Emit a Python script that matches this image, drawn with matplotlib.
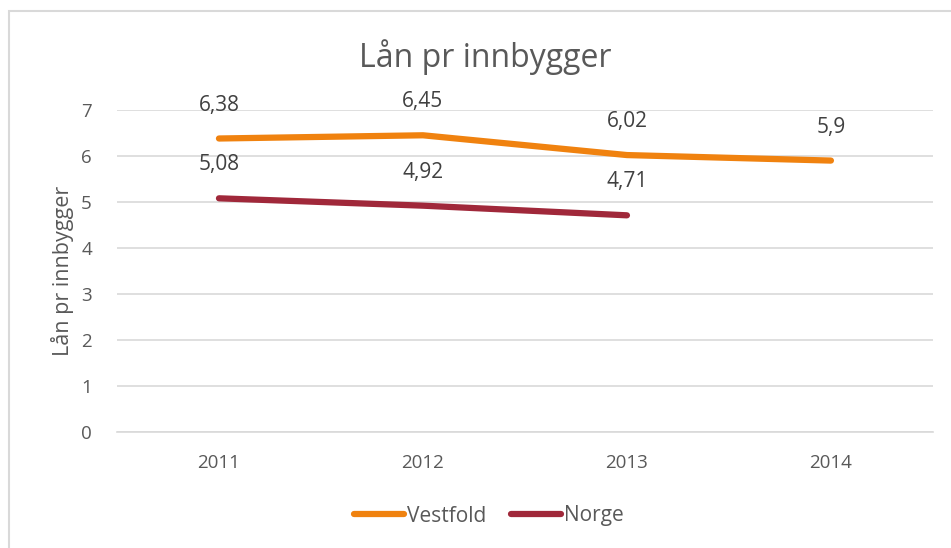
import matplotlib
matplotlib.use('Agg')
import matplotlib.pyplot as plt
from matplotlib.patches import Rectangle

plt.rcParams['font.family'] = ['Open Sans', 'DejaVu Sans']

years = ['2011', '2012', '2013', '2014']
vestfold = [6.38, 6.45, 6.02, 5.9]
norge = [5.08, 4.92, 4.71]
vestfold_labels = ['6,38', '6,45', '6,02', '5,9']
norge_labels = ['5,08', '4,92', '4,71']

txt = '#595959'
fig = plt.figure(figsize=(9.51, 5.48), dpi=100)
ax = fig.add_axes([0.123, 0.2117, 0.858, 0.5876])

# light frame of the chart area (cut off on right/bottom)
fig.patches.append(Rectangle((9 / 951, -0.1), 1.2, 1 - 11 / 548 + 0.1,
                             transform=fig.transFigure, fill=False,
                             edgecolor='#d9d9d9', lw=1.5))

x = list(range(len(years)))
ax.plot(x, vestfold, color='#F0820F', lw=4.5, solid_capstyle='round', label='Vestfold')
ax.plot(x[:len(norge)], norge, color='#A0283A', lw=4.5, solid_capstyle='round', label='Norge')

for i, (v, s) in enumerate(zip(vestfold, vestfold_labels)):
    ax.annotate(s, (i, v), xytext=(0, 24), textcoords='offset points',
                ha='center', va='center', fontsize=15, color='#404040')
for i, (v, s) in enumerate(zip(norge, norge_labels)):
    ax.annotate(s, (i, v), xytext=(0, 24), textcoords='offset points',
                ha='center', va='center', fontsize=15, color='#404040')

ax.set_xlim(-0.5, 3.5)
ax.set_ylim(0, 7)
ax.set_xticks(x)
ax.set_xticklabels(years)
ax.set_yticks(range(0, 8))
ax.grid(axis='y', color='#d9d9d9', lw=1.2)
ax.set_axisbelow(True)
for sp in ['top', 'right', 'left']:
    ax.spines[sp].set_visible(False)
ax.spines['bottom'].set_color('#d9d9d9')
ax.spines['bottom'].set_linewidth(1.2)
ax.tick_params(length=0, labelsize=13.5, colors=txt, pad=16)
ax.tick_params(axis='y', pad=18)
ax.set_ylabel('Lån pr innbygger', fontsize=15.5, color=txt, labelpad=5)

fig.text(0.51, 1 - 57 / 548, 'Lån pr innbygger', ha='center', va='center',
         fontsize=23, color=txt)

fig.legend(loc='center', bbox_to_anchor=(0.514, 1 - 516 / 548), ncol=2, frameon=False,
           fontsize=15, labelcolor=txt, handlelength=2.4, handletextpad=0.15,
           columnspacing=1.2)

plt.savefig('out.png', dpi=100)
